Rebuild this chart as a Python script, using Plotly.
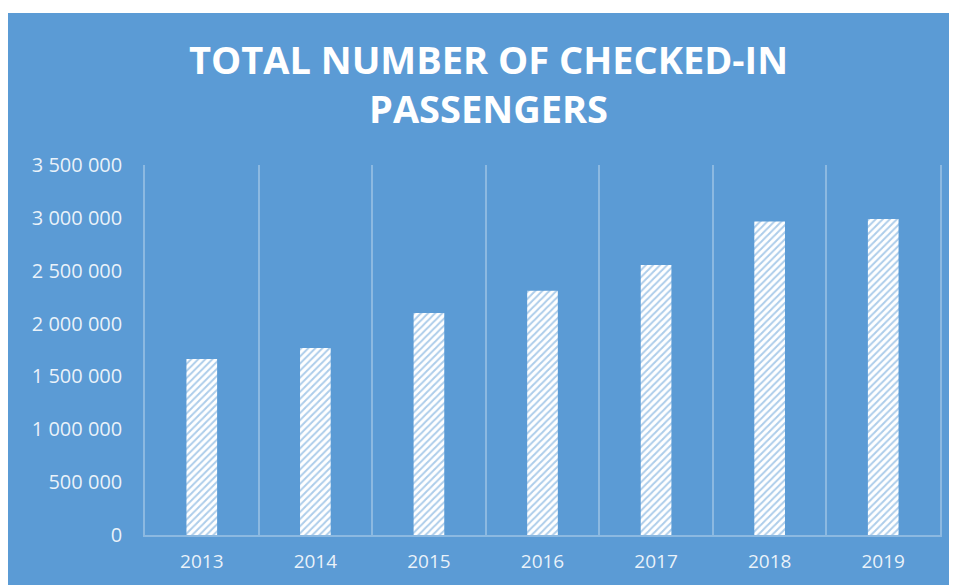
import plotly.graph_objects as go

years = ["2013", "2014", "2015", "2016", "2017", "2018", "2019"]
passengers = [1665000, 1770000, 2100000, 2310000, 2555000, 2965000, 2990000]
y_ticks = [0, 500000, 1000000, 1500000, 2000000, 2500000, 3000000, 3500000]

BLUE = "#5B9BD5"
GRID = "rgba(255,255,255,0.3)"
LABEL = "rgba(255,255,255,0.88)"

fig = go.Figure()
fig.add_trace(go.Bar(
    x=years, y=passengers,
    marker=dict(
        color="white",
        line=dict(width=0),
        pattern=dict(shape="/", fgcolor=BLUE, bgcolor="white", size=5, solidity=0.4),
    ),
    hoverinfo="x+y",
))

W, H = 957, 585
L, R, T, B = 137, 25, 157, 58
pw, ph = W - L - R, H - T - B

def px_x(p):
    return (p - L) / pw

def px_y(p):
    return (H - B - p) / ph

fig.add_shape(type="rect", xref="paper", yref="paper", layer="below",
              x0=px_x(0), x1=px_x(W + 5), y0=px_y(H + 5), y1=px_y(5),
              fillcolor=BLUE, line=dict(width=0))

fig.update_layout(
    width=W, height=H,
    margin=dict(l=L, r=R, t=T, b=B),
    paper_bgcolor="white",
    plot_bgcolor="rgba(0,0,0,0)",
    separators=". ",
    bargap=0.73,
    showlegend=False,
    title=dict(
        text="TOTAL NUMBER OF CHECKED-IN<br>PASSENGERS",
        font=dict(family="Open Sans", size=38, color="white", weight="bold"),
        x=480.5 / W, xref="container", xanchor="center",
        y=1 - 66 / H, yref="container", yanchor="top",
    ),
    font=dict(family="Open Sans", color=LABEL),
)
fig.update_xaxes(
    type="category", tickson="boundaries",
    showgrid=True, gridcolor=GRID, gridwidth=1.5,
    showline=True, linecolor=GRID, linewidth=1.5,
    ticks="", tickfont=dict(size=19, color=LABEL),
    ticklabelstandoff=8,
)
fig.update_yaxes(
    range=[0, 3500000], tickvals=y_ticks, tickformat=",d",
    showgrid=False, zeroline=False,
    showline=True, mirror=True, linecolor=GRID, linewidth=1.5,
    ticks="", tickfont=dict(size=20, color=LABEL),
    ticklabelstandoff=17,
)
fig.write_html(
    "out.html",
    post_script="document.documentElement.style.overflow='hidden';document.body.style.overflow='hidden';",
)
